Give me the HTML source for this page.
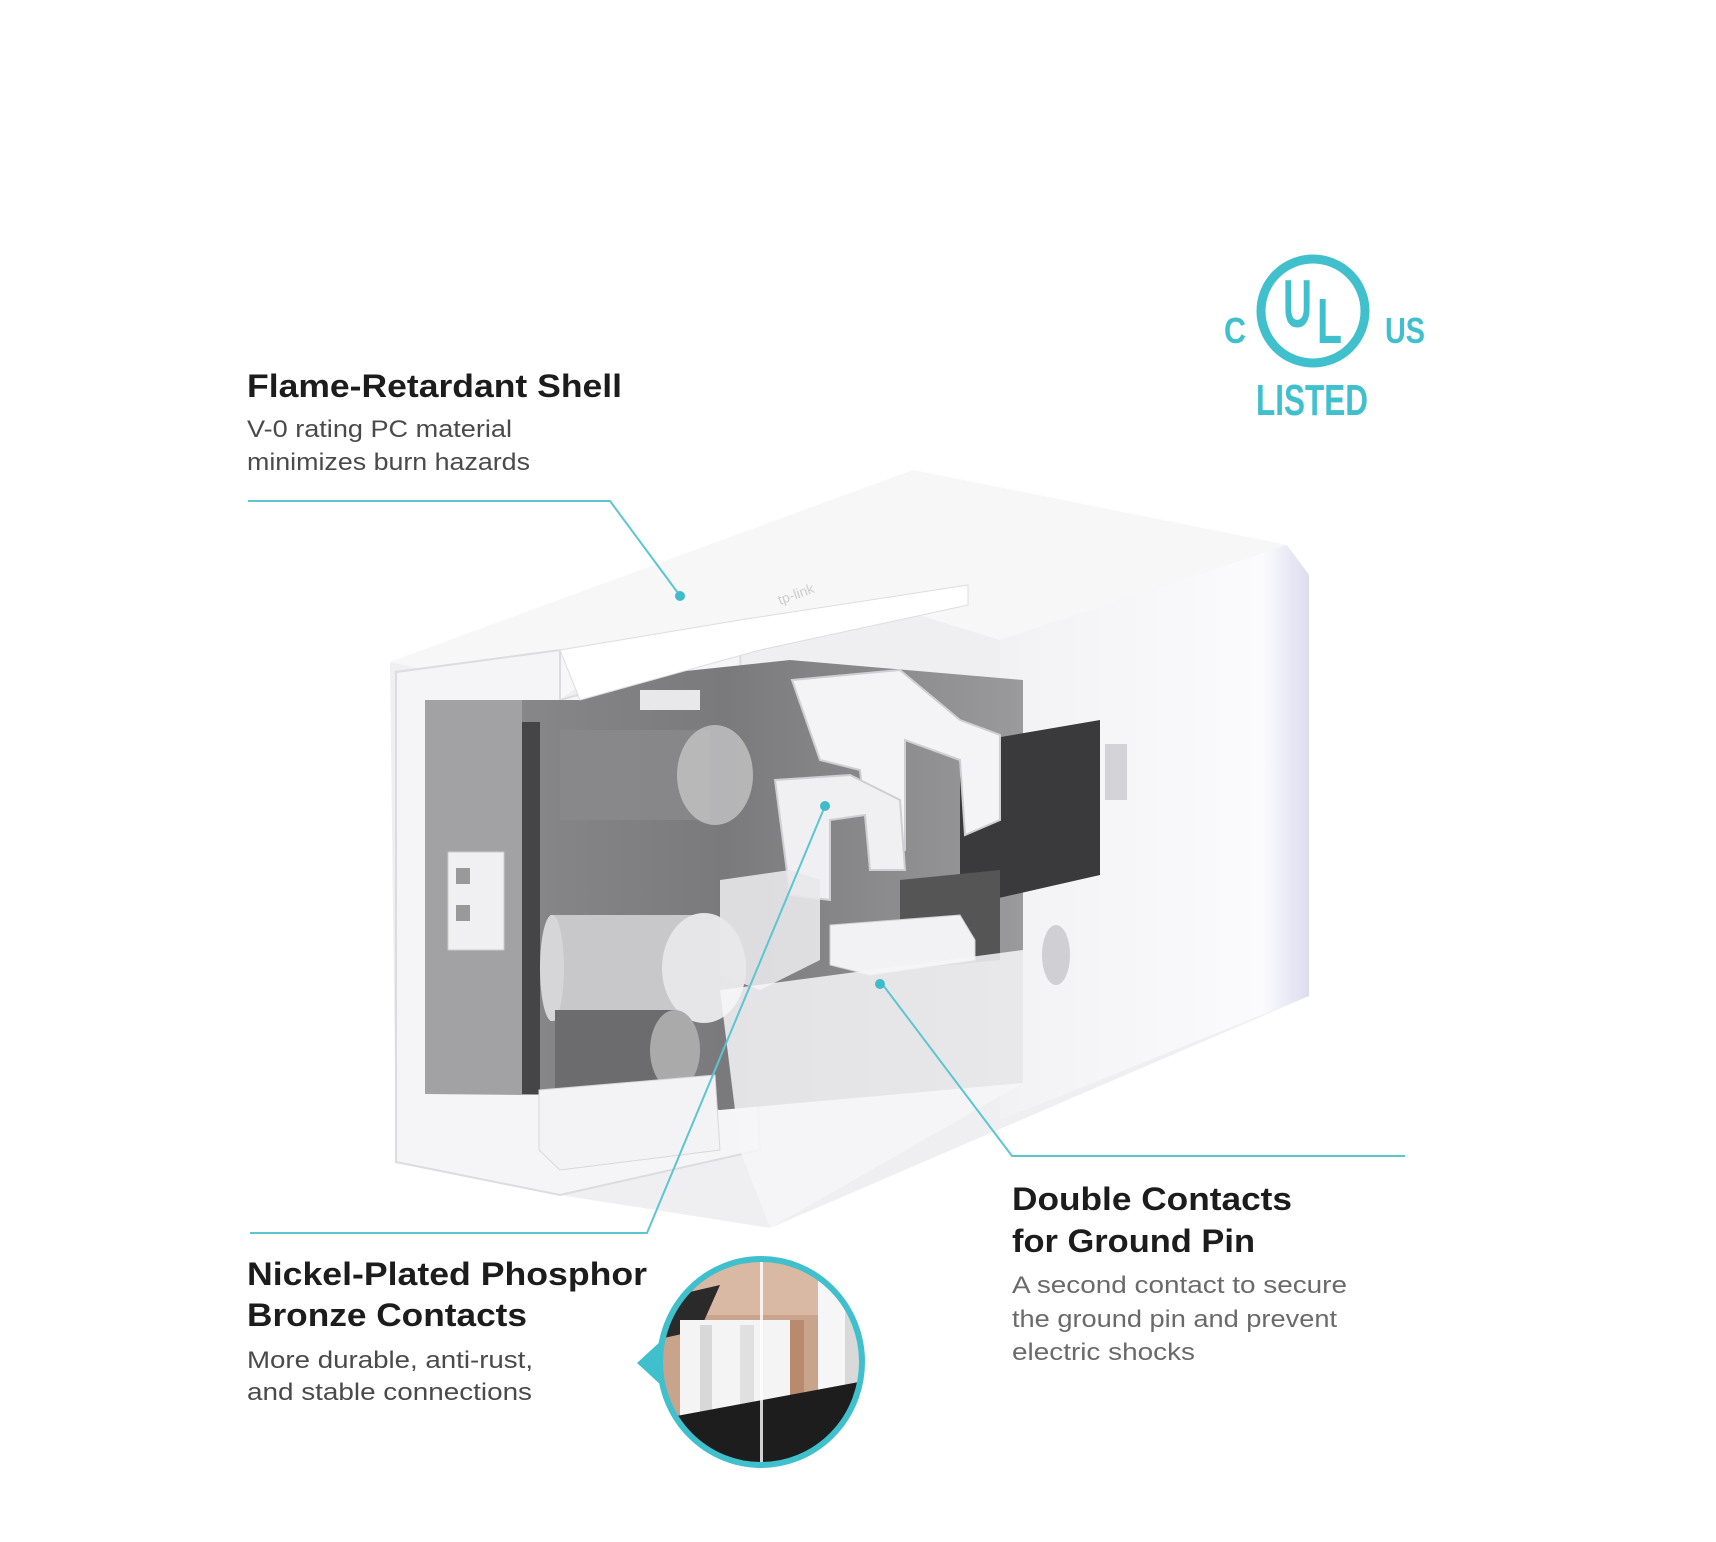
<!DOCTYPE html>
<html><head><meta charset="utf-8"><style>
html,body{margin:0;padding:0;background:#fff;}
svg{display:block;}
text{font-family:"Liberation Sans","DejaVu Sans",sans-serif;}
</style></head><body>
<svg width="1716" height="1542" viewBox="0 0 1716 1542" xmlns="http://www.w3.org/2000/svg">
<defs>
<linearGradient id="cav" x1="0" y1="0" x2="1" y2="0">
<stop offset="0" stop-color="#8d8d8f"/><stop offset="0.5" stop-color="#7a7a7c"/><stop offset="1" stop-color="#9a9a9c"/>
</linearGradient>
<linearGradient id="rf" x1="0" y1="0" x2="1" y2="0">
<stop offset="0" stop-color="#f2f2f4"/><stop offset="0.85" stop-color="#fbfbfd"/><stop offset="1" stop-color="#dcdcf0"/>
</linearGradient>
<clipPath id="ic"><ellipse cx="761" cy="1362" rx="100" ry="102"/></clipPath>
</defs>

<polygon points="390,662 913,470 1287,545 1309,575 1309,996 770,1228 560,1195 396,1162" fill="#efeff1"/>
<polygon points="390,662 913,470 1287,545 1000,640 870,600 600,670 560,700" fill="#f7f7f8"/>
<polygon points="1000,640 1287,545 1309,575 1309,996 1000,1120" fill="url(#rf)"/>
<path d="M396,672 L560,650 L560,700 L740,650 L760,1150 L560,1195 L396,1162 Z" fill="#f5f5f7" stroke="#dcdce0" stroke-width="2"/>
<polygon points="425,700 580,700 600,680 790,660 1023,680 1023,1083 720,1110 560,1095 425,1094" fill="url(#cav)"/>
<rect x="425" y="700" width="97" height="394" fill="#a2a2a4"/>
<rect x="522" y="722" width="18" height="372" fill="#454547"/>
<polygon points="960,744 1100,720 1100,875 990,900 960,880" fill="#3a3a3c"/>
<polygon points="900,880 1000,870 1000,960 900,970" fill="#555"/>
<rect x="448" y="852" width="56" height="98" fill="#f0f0f2" stroke="#ccc"/>
<rect x="456" y="868" width="14" height="16" fill="#999"/><rect x="456" y="905" width="14" height="16" fill="#999"/>
<rect x="550" y="915" width="150" height="106" fill="#c8c8ca"/>
<ellipse cx="704" cy="968" rx="42" ry="55" fill="#e6e6e8"/>
<ellipse cx="552" cy="968" rx="12" ry="53" fill="#d6d6d8"/>
<rect x="555" y="1010" width="120" height="80" fill="#6c6c6e"/>
<ellipse cx="675" cy="1050" rx="25" ry="40" fill="#aaa"/>
<rect x="560" y="730" width="150" height="90" fill="#8a8a8c" opacity="0.8"/>
<ellipse cx="715" cy="775" rx="38" ry="50" fill="#c4c4c6" opacity="0.8"/>
<path d="M792,680 L900,670 L960,720 L1000,735 L1000,820 L965,835 L960,760 L905,740 L905,850 L870,860 L860,770 L820,760 Z" fill="#f4f4f6" stroke="#cfcfd3" stroke-width="2"/>
<path d="M775,780 L850,775 L900,800 L905,870 L870,870 L865,815 L830,820 L830,900 L790,895 Z" fill="#f0f0f2" stroke="#cfcfd3" stroke-width="2"/>
<path d="M720,880 L790,870 L820,880 L820,960 L760,990 L720,975 Z" fill="#e8e8ea" opacity="0.9"/>
<path d="M830,925 L960,915 L975,940 L975,960 L870,975 L830,965 Z" fill="#f2f2f4" stroke="#d0d0d4"/>
<polygon points="720,990 1023,950 1023,1083 770,1228 740,1150" fill="#f6f6f8" opacity="0.85"/>
<polygon points="539,1090 715,1075 720,1150 560,1170 539,1150" fill="#f3f3f5" stroke="#d8d8dc"/>
<polygon points="560,650 740,620 968,585 968,605 760,650 580,700" fill="#fff" stroke="#ddd"/>
<rect x="640" y="690" width="60" height="20" fill="#e8e8ea"/>
<rect x="1105" y="744" width="22" height="56" fill="#d4d4d8"/>
<ellipse cx="1056" cy="955" rx="14" ry="30" fill="#d0d0d4"/>
<text x="780" y="605" font-size="14" fill="#ccc" transform="rotate(-20 780 605)">tp-link</text>

<g fill="#3fc0cc" font-weight="bold">
<circle cx="1313" cy="311" r="52" fill="none" stroke="#3fc0cc" stroke-width="9"/>
<text x="1283" y="327" font-size="68" textLength="29" lengthAdjust="spacingAndGlyphs">U</text>
<text x="1317" y="343" font-size="64" textLength="25" lengthAdjust="spacingAndGlyphs">L</text>
<text x="1224" y="343" font-size="36" textLength="22" lengthAdjust="spacingAndGlyphs">C</text>
<text x="1385" y="343" font-size="36" textLength="40" lengthAdjust="spacingAndGlyphs">US</text>
<text x="1256" y="415" font-size="44" textLength="112" lengthAdjust="spacingAndGlyphs">LISTED</text>
</g>

<g stroke="#5cc6d0" stroke-width="2" fill="none">
<polyline points="248,501 610,501 678,593"/>
<polyline points="250,1233 647,1233 825,806"/>
<polyline points="880,981 1012,1156 1405,1156"/>
</g>
<g fill="#3fbcc9">
<circle cx="680" cy="596" r="5"/><circle cx="825" cy="806" r="5"/><circle cx="880" cy="984" r="5"/>
</g>

<g fill="#1c1c1c" font-weight="bold">
<text x="247" y="397" font-size="32" textLength="375" lengthAdjust="spacingAndGlyphs">Flame-Retardant Shell</text>
<text x="247" y="1285" font-size="32" textLength="400" lengthAdjust="spacingAndGlyphs">Nickel-Plated Phosphor</text>
<text x="247" y="1326" font-size="32" textLength="280" lengthAdjust="spacingAndGlyphs">Bronze Contacts</text>
<text x="1012" y="1210" font-size="32" textLength="280" lengthAdjust="spacingAndGlyphs">Double Contacts</text>
<text x="1012" y="1252" font-size="32" textLength="243" lengthAdjust="spacingAndGlyphs">for Ground Pin</text>
</g>
<g fill="#4a4a4a" font-size="24">
<text x="247" y="437" textLength="265" lengthAdjust="spacingAndGlyphs">V-0 rating PC material</text>
<text x="247" y="470" textLength="283" lengthAdjust="spacingAndGlyphs">minimizes burn hazards</text>
<text x="247" y="1368" textLength="286" lengthAdjust="spacingAndGlyphs">More durable, anti-rust,</text>
<text x="247" y="1400" textLength="285" lengthAdjust="spacingAndGlyphs">and stable connections</text>
</g>
<g fill="#6a6a6a" font-size="24">
<text x="1012" y="1293" textLength="335" lengthAdjust="spacingAndGlyphs">A second contact to secure</text>
<text x="1012" y="1327" textLength="325" lengthAdjust="spacingAndGlyphs">the ground pin and prevent</text>
<text x="1012" y="1360" textLength="183" lengthAdjust="spacingAndGlyphs">electric shocks</text>
</g>

<polygon points="637,1363 662,1340 662,1386" fill="#3fc0cc"/>
<g clip-path="url(#ic)">
<rect x="655" y="1255" width="215" height="215" fill="#c9a48c"/>
<rect x="655" y="1255" width="215" height="60" fill="#d9b9a3"/>
<polygon points="655,1300 720,1285 700,1330 655,1340" fill="#2a2a2a"/>
<rect x="680" y="1320" width="110" height="110" fill="#f4f4f4"/>
<rect x="700" y="1325" width="12" height="100" fill="#d8d8d8"/>
<rect x="740" y="1325" width="14" height="100" fill="#e0e0e0"/>
<rect x="790" y="1320" width="14" height="110" fill="#b98a6e"/>
<rect x="818" y="1270" width="30" height="150" fill="#f6f6f6"/>
<rect x="845" y="1270" width="25" height="120" fill="#d9d9d9"/>
<polygon points="655,1420 870,1380 870,1470 655,1470" fill="#1d1d1d"/>
<rect x="760" y="1255" width="3" height="215" fill="#fff" opacity="0.8"/>
</g>
<ellipse cx="761" cy="1362" rx="101" ry="103" fill="none" stroke="#3fc0cc" stroke-width="6"/>
</svg>
</body></html>
